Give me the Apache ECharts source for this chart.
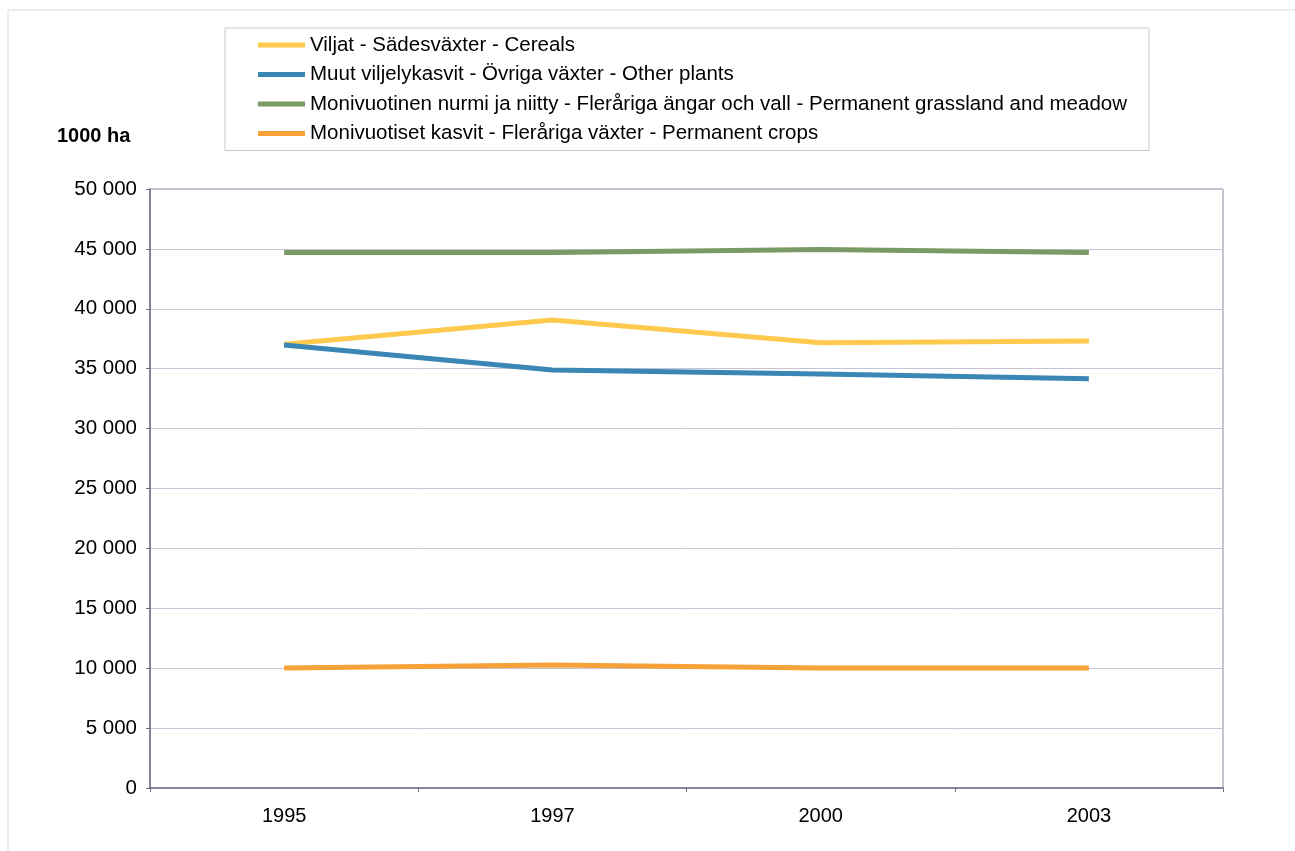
<!DOCTYPE html>
<html>
<head>
<meta charset="utf-8">
<style>
  html, body { margin: 0; padding: 0; background: #fff; }
  #chart { width: 1295px; height: 851px; }
</style>
<script src="https://cdn.jsdelivr.net/npm/echarts@6/dist/echarts.min.js"></script>
</head>
<body>
<div id="chart"></div>
<script>
// Utilised agricultural area by crop group, 1000 ha
const years = ['1995', '1997', '2000', '2003'];

const cereals = [37040, 39060, 37170, 37310];
const otherPlants = [36980, 34890, 34560, 34160];
const grassland = [44690, 44700, 44950, 44700];
const permanentCrops = [10020, 10270, 10020, 10020];

const seriesNames = [
  'Viljat - Sädesväxter - Cereals',
  'Muut viljelykasvit - Övriga växter - Other plants',
  'Monivuotinen nurmi ja niitty - Fleråriga ängar och vall - Permanent grassland and meadow',
  'Monivuotiset kasvit - Fleråriga växter - Permanent crops'
];
const seriesColors = ['#FDC94E', '#3A86B4', '#799A63', '#F7A038'];
const seriesData = [cereals, otherPlants, grassland, permanentCrops];

const fontFamily = 'Liberation Sans, Arial, sans-serif';

const chart = echarts.init(document.getElementById('chart'), null, { renderer: 'canvas' });

const fmt = v => String(v).replace(/\B(?=(\d{3})+(?!\d))/g, ' ');

chart.setOption({
  animation: false,
  backgroundColor: '#fff',
  textStyle: { fontFamily: fontFamily },
  graphic: [
    {
      type: 'rect',
      shape: { x: 8, y: 10, width: 1400, height: 1000 },
      style: { fill: 'none', stroke: '#dcdcdc', lineWidth: 1 },
      silent: true
    },
    {
      type: 'text',
      left: 57,
      top: 126,
      style: { text: '1000 ha', font: 'bold 20px ' + fontFamily, fill: '#000' }
    }
  ],
  legend: {
    left: 225,
    top: 28,
    orient: 'vertical',
    icon: 'rect',
    itemWidth: 47,
    itemHeight: 5,
    itemGap: 7.5,
    padding: [6, 22, 6, 33],
    borderColor: '#c8c8c8',
    borderWidth: 1,
    backgroundColor: '#fff',
    textStyle: { fontSize: 20.5, color: '#000', lineHeight: 22, fontFamily: fontFamily },
    data: seriesNames
  },
  grid: {
    left: 150,
    right: 72,
    top: 189,
    bottom: 63,
    show: true,
    borderColor: '#8a8aa0',
    borderWidth: 1
  },
  xAxis: {
    type: 'category',
    data: years,
    boundaryGap: true,
    axisLine: { lineStyle: { color: '#6f6f88', width: 1.5 } },
    axisTick: { show: true, length: 4, interval: 0, lineStyle: { color: '#6f6f88' } },
    axisLabel: { fontSize: 20, color: '#000', margin: 18, fontFamily: fontFamily }
  },
  yAxis: {
    type: 'value',
    min: 0,
    max: 50000,
    interval: 5000,
    axisLine: { show: true, lineStyle: { color: '#6f6f88', width: 1.5 } },
    axisTick: { show: true, length: 4, lineStyle: { color: '#6f6f88' } },
    splitLine: { lineStyle: { color: '#c4c4d6', width: 1 } },
    axisLabel: {
      fontSize: 20.5, color: '#000', margin: 13, fontFamily: fontFamily,
      formatter: fmt
    }
  },
  series: seriesNames.map((name, i) => ({
    name: name,
    type: 'line',
    data: seriesData[i],
    showSymbol: false,
    symbol: 'none',
    color: seriesColors[i],
    lineStyle: { width: 5, color: seriesColors[i], cap: 'butt', join: 'round' },
    z: 3
  }))
});
</script>
</body>
</html>
